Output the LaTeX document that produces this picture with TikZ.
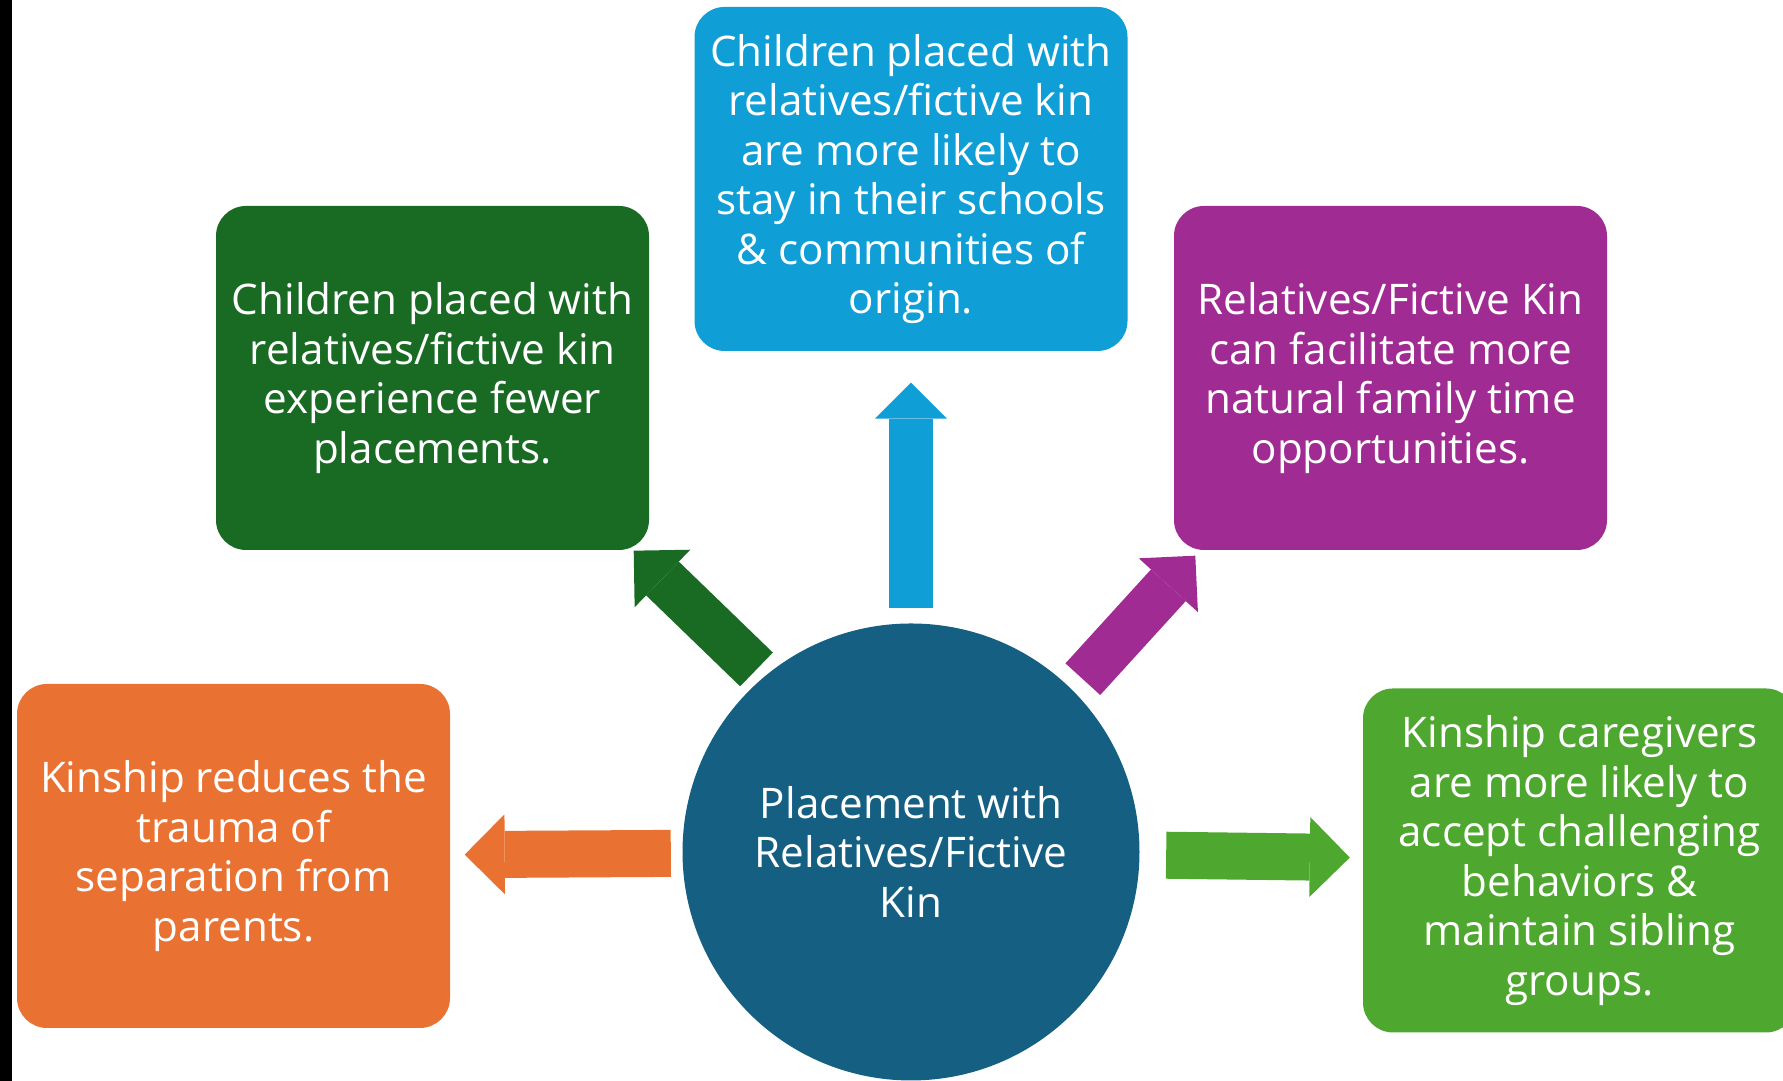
\documentclass[tikz,border=0pt]{standalone}
\usepackage{fontspec}
\setmainfont{Open Sans}
\usetikzlibrary{arrows.meta}
\definecolor{mnavy}{HTML}{156082}
\definecolor{morange}{HTML}{E97132}
\definecolor{mdkgreen}{HTML}{196B24}
\definecolor{mblue}{HTML}{0F9ED5}
\definecolor{mpurple}{HTML}{A02B93}
\definecolor{mgreen}{HTML}{4EA72E}
\tikzset{card/.style = {rounded corners = 0.3cm, minimum width = 4.33cm, minimum height = 3.44cm, inner sep = 0, text = white, align = center, font = \fontsize{12}{14.1}\selectfont}}
\tikzset{hub/.style = {circle, fill = mnavy, minimum size = 4.57cm, inner sep = 0, text = white, align = center, font = \fontsize{12}{14.1}\selectfont}}
\tikzset{block/.style = {line width = 0.47cm, -{Triangle[width = 0.8cm, length = 0.4cm, line width = 0pt]}}}

\begin{document}
\begin{tikzpicture}
      \useasboundingbox (0, 0) rectangle (17.83, 10.81);
      \fill [black] (0, 0) rectangle (0.12, 10.81);

      \node [card, fill = mblue] (school) at (9.11, 9.02) {Children placed with\\relatives/fictive kin\\are more likely to\\stay in their schools\\\& communities of\\origin.};
      \node [card, fill = mdkgreen] (fewer) at (4.325, 7.03) {Children placed with\\relatives/fictive kin\\experience fewer\\placements.};
      \node [card, fill = mpurple] (family) at (13.905, 7.03) {Relatives/Fictive Kin\\can facilitate more\\natural family time\\opportunities.};
      \node [card, fill = morange] (trauma) at (2.335, 2.25) {Kinship reduces the\\trauma of\\separation from\\parents.};
      \node [card, fill = mgreen] (sibling) at (15.795, 2.205) {Kinship caregivers\\are more likely to\\accept challenging\\behaviors \&\\maintain sibling\\groups.};

      \node [hub] (kin) at (9.11, 2.29) {Placement with\\Relatives/Fictive\\Kin};

      \draw [block, mblue, line width = 0.44cm, -{Triangle[width = 0.72cm, length = 0.36cm, line width = 0pt]}, shorten <= 0.145cm, shorten >= 0.31cm] (kin) -- (school);
      \draw [block, mdkgreen, shorten <= 0.1cm] (kin.130) -- ([xshift = -0.16cm] fewer.south east);
      \draw [block, mpurple, shorten <= 0.145cm] (kin.45) -- ([shift = {(0.22, -0.05)}] family.south west);
      \draw [block, morange, shorten <= 0.11cm, shorten >= 0.14cm] (kin) -- (trauma);
      \draw [block, mgreen, shorten <= 0.26cm, shorten >= 0.125cm] (kin) -- (sibling);
    \end{tikzpicture}
\end{document}
